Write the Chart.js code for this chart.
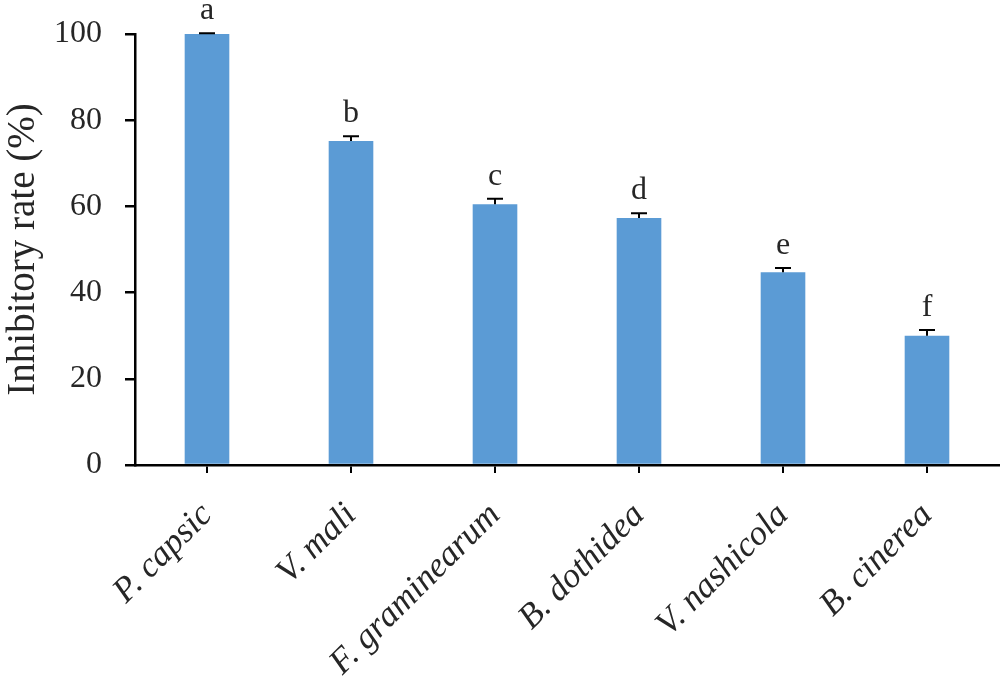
<!DOCTYPE html>
<html>
<head>
<meta charset="utf-8">
<script src="https://cdn.jsdelivr.net/npm/chart.js@4.4.1/dist/chart.umd.min.js"></script>
<style>
  html, body { margin: 0; padding: 0; background: #fff; }
  #wrap { width: 1003px; height: 678px; }
</style>
</head>
<body>
<div id="wrap"><canvas id="chart"></canvas></div>
<script>
// ── Data ──────────────────────────────────────────────────────────────────────
const species    = ['P. capsic', 'V. mali', 'F. graminearum', 'B. dothidea', 'V. nashicola', 'B. cinerea'];
const inhibition = [100, 75.2, 60.5, 57.3, 44.7, 30.0];
const errors     = [0.2, 1.1, 1.3, 1.1, 1.0, 1.3];
const letters    = ['a', 'b', 'c', 'd', 'e', 'f'];
const yTicks     = [0, 20, 40, 60, 80, 100];

const SERIF = '"Liberation Serif", "Times New Roman", serif';
const INK = '#262626';

// ── Error bars (upper half) and significance letters ─────────────────────────
const annotate = {
  id: 'annotate',
  afterDatasetsDraw(chart) {
    const ctx = chart.ctx;
    const y = chart.scales.y;
    const meta = chart.getDatasetMeta(0);
    ctx.save();
    ctx.strokeStyle = '#000';
    ctx.lineWidth = 2;
    ctx.fillStyle = INK;
    ctx.font = '32px ' + SERIF;
    ctx.textAlign = 'center';
    ctx.textBaseline = 'alphabetic';
    meta.data.forEach(function(bar, i) {
      var base = y.getPixelForValue(inhibition[i]);
      var top  = y.getPixelForValue(inhibition[i] + errors[i]);
      ctx.beginPath();
      ctx.moveTo(bar.x, base); ctx.lineTo(bar.x, top);
      ctx.moveTo(bar.x - 8, top); ctx.lineTo(bar.x + 8, top);
      ctx.stroke();
      ctx.fillText(letters[i], bar.x, top - 14);
    });
    ctx.restore();
  }
};

// ── Chart ─────────────────────────────────────────────────────────────────────
new Chart(document.getElementById('chart'), {
  type: 'bar',
  data: {
    labels: species,
    datasets: [{
      data: inhibition,
      backgroundColor: '#5B9BD5',
      borderWidth: 0,
      categoryPercentage: 1,
      barPercentage: 0.31
    }]
  },
  options: {
    responsive: true,
    maintainAspectRatio: false,
    animation: false,
    layout: { padding: { top: 34, right: 4, left: 0, bottom: 0 } },
    plugins: { legend: { display: false }, tooltip: { enabled: false } },
    scales: {
      x: {
        grid: { offset: false, drawOnChartArea: false, drawTicks: true, tickLength: 8, color: '#000', lineWidth: 2 },
        border: { display: true, color: '#000', width: 2.5 },
        ticks: {
          color: INK, autoSkip: false, minRotation: 45, maxRotation: 45, padding: 22,
          font: { family: SERIF, size: 35, style: 'italic' }
        },
        afterFit(s) { s.height = 213; }
      },
      y: {
        min: 0, max: 100,
        afterBuildTicks(s) { s.ticks = yTicks.map(v => ({ value: v })); },
        grid: { drawOnChartArea: false, drawTicks: true, tickLength: 10, color: '#000', lineWidth: 2.5 },
        border: { display: true, color: '#000', width: 2.5 },
        ticks: { color: INK, padding: 23, font: { family: SERIF, size: 32 } },
        title: {
          display: true, text: 'Inhibitory rate (%)', color: INK, padding: 0,
          font: { family: SERIF, size: 39 }
        },
        afterFit(s) { s.width = 135; s.paddingTop = 0; s.paddingBottom = 0; }
      }
    }
  },
  plugins: [annotate]
});
</script>
</body>
</html>
